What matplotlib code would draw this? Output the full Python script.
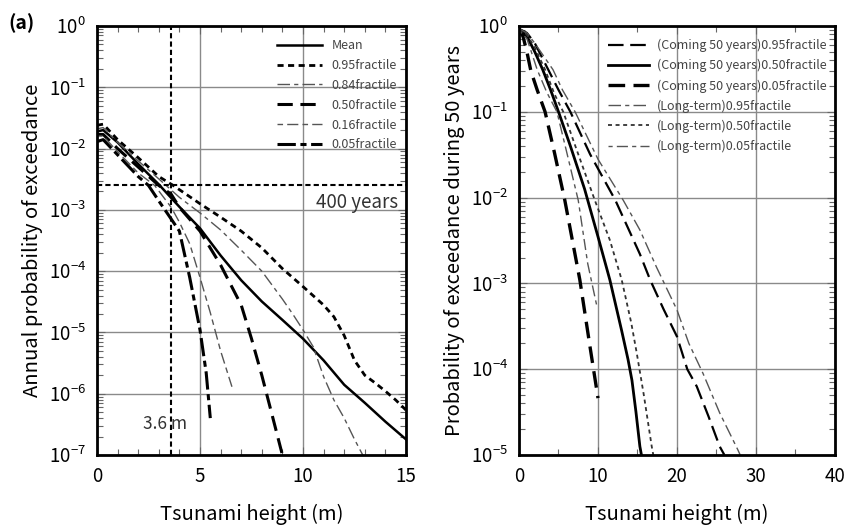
import matplotlib
matplotlib.use("Agg")
import matplotlib.pyplot as plt
from matplotlib.ticker import LogLocator, MultipleLocator, NullFormatter

plt.rcParams['font.family'] = ['Noto Sans CJK JP', 'DejaVu Sans']
plt.rcParams['mathtext.fontset'] = 'dejavusans'

# ---------------- Panel (a): annual probability ----------------
mean_x = [0, 0.3, 1, 2, 3, 4, 5, 6, 7, 8, 9, 10, 11, 12, 13, 14, 15]
mean_p = [1.9e-2, 2.0e-2, 1.26e-2, 5.6e-3, 2.6e-3, 1.12e-3, 5.0e-4, 1.8e-4, 7.1e-5,
          3.2e-5, 1.6e-5, 7.9e-6, 3.5e-6, 1.4e-6, 7.1e-7, 3.5e-7, 1.8e-7]

f95_x = [0, 0.3, 1, 2, 3, 3.7, 5, 6, 7, 8, 9, 10, 11, 11.5, 12, 12.5, 13, 13.5, 14, 14.5, 15]
f95_p = [2.4e-2, 2.5e-2, 1.4e-2, 7.1e-3, 3.5e-3, 2.5e-3, 1.26e-3, 7.6e-4, 4.5e-4, 2.4e-4,
         1.1e-4, 5.6e-5, 2.8e-5, 1.8e-5, 8.9e-6, 3.5e-6, 2.0e-6, 1.5e-6, 1.1e-6, 7.9e-7, 5.4e-7]

f84_x = [0, 0.3, 1, 2, 3, 4, 5, 6, 7, 8, 9, 9.5, 10, 10.5, 11, 11.5, 12, 12.5, 12.9]
f84_p = [2.1e-2, 2.2e-2, 1.26e-2, 6.3e-3, 3.2e-3, 1.6e-3, 8.9e-4, 4.7e-4, 2.2e-4, 1.0e-4,
         3.5e-5, 2.0e-5, 1.1e-5, 5.8e-6, 1.9e-6, 7.9e-7, 4.0e-7, 1.8e-7, 1.0e-7]

f50_x = [0, 0.3, 1, 2, 3, 3.6, 4, 5, 6, 7, 7.5, 8, 8.5, 9]
f50_p = [1.7e-2, 1.7e-2, 1.0e-2, 5.0e-3, 2.5e-3, 1.8e-3, 1.1e-3, 4.5e-4, 1.26e-4, 2.8e-5,
         7.9e-6, 2.0e-6, 4.5e-7, 1.0e-7]

f16_x = [0, 0.3, 1, 2, 2.8, 3.6, 4, 4.5, 5, 5.5, 6, 6.55]
f16_p = [1.6e-2, 1.6e-2, 8.9e-3, 4.0e-3, 2.5e-3, 1.1e-3, 6.3e-4, 2.8e-4, 7.9e-5, 2.1e-5, 5.0e-6, 1.3e-6]

f05_x = [0, 0.3, 1, 2, 2.5, 3, 3.6, 4, 4.5, 5, 5.3, 5.5]
f05_p = [1.3e-2, 1.4e-2, 7.9e-3, 3.5e-3, 2.5e-3, 1.4e-3, 7.1e-4, 4.5e-4, 7.9e-5, 1.1e-5, 2.2e-6, 4.0e-7]

target_height = 3.6
return_period = 400

# ---------------- Panel (b): probability during 50 years ----------------
c95_x = [0, 1, 2, 3.7, 5, 6.5, 9, 12.2, 15.3, 16.6, 18.3, 20, 21.3, 22.5, 24, 25.4, 26]
c95_p = [0.93, 0.83, 0.63, 0.31, 0.18, 0.10, 3.2e-2, 9.3e-3, 2.2e-3, 1.1e-3, 5.0e-4,
         2.4e-4, 1.0e-4, 6.3e-5, 2.8e-5, 1.26e-5, 1.0e-5]

c50_x = [0, 1, 2, 3, 4, 5, 6.5, 8.3, 10, 11.5, 13, 13.8, 14.3, 14.8, 15.3, 15.5]
c50_p = [0.89, 0.76, 0.50, 0.31, 0.18, 0.10, 4.0e-2, 1.26e-2, 3.5e-3, 1.1e-3, 2.8e-4,
         1.3e-4, 7.4e-5, 3.2e-5, 1.26e-5, 1.0e-5]

c05_x = [0, 0.5, 1, 1.5, 2.3, 3.3, 4.5, 5.8, 7.7, 9.0, 10.0]
c05_p = [0.89, 0.76, 0.50, 0.30, 0.18, 0.10, 3.3e-2, 9.3e-3, 1.1e-3, 1.8e-4, 4.6e-5]

l95_x = [0, 1, 2, 4.3, 5.5, 7.1, 10, 13.2, 15.3, 17.4, 20, 21.5, 23.3, 25.4, 27.7, 28]
l95_p = [0.93, 0.83, 0.63, 0.31, 0.18, 0.10, 2.8e-2, 9.3e-3, 4.2e-3, 1.55e-3, 4.9e-4,
         2.0e-4, 8.9e-5, 3.1e-5, 1.15e-5, 1.0e-5]

l50_x = [0, 1, 2, 3.3, 4.5, 5.6, 7.5, 9.6, 11.5, 13.0, 14.2, 14.9, 15.8, 16.8, 17.0]
l50_p = [0.89, 0.79, 0.56, 0.31, 0.16, 0.10, 3.2e-2, 9.3e-3, 3.2e-3, 1.1e-3, 3.5e-4,
         1.55e-4, 5.0e-5, 1.26e-5, 1.0e-5]

l05_x = [0, 1, 1.5, 2.3, 3.5, 4.8, 6, 7.5, 8.7, 9.9]
l05_p = [0.89, 0.71, 0.52, 0.31, 0.17, 0.10, 3.5e-2, 9.3e-3, 1.7e-3, 5.2e-4]

fig = plt.figure(figsize=(8.45, 5.28), dpi=100)
ax1 = fig.add_axes([97/845, 73/528, 309/845, 429/528])
ax2 = fig.add_axes([519/845, 73/528, 316/845, 429/528])

GRID = '#8a8a8a'

def style_axes(ax, xmax, xmajor, xminor, ymin):
    ax.set_yscale('log')
    ax.set_xlim(0, xmax)
    ax.set_ylim(ymin, 1)
    ax.xaxis.set_major_locator(MultipleLocator(xmajor))
    ax.xaxis.set_minor_locator(MultipleLocator(xminor))
    ax.yaxis.set_major_locator(LogLocator(base=10, numticks=20))
    ax.yaxis.set_minor_locator(LogLocator(base=10, subs=range(2, 10), numticks=20))
    ax.yaxis.set_minor_formatter(NullFormatter())
    ax.grid(True, which='major', color=GRID, lw=1.0)
    ax.set_axisbelow(True)
    ax.tick_params(which='both', direction='in', top=True, right=True)
    ax.tick_params(which='major', length=6, width=0.8, color='#666666', labelsize=13.5, pad=8)
    ax.tick_params(which='minor', length=4, width=0.8, color='#666666')
    for s in ax.spines.values():
        s.set_linewidth(2.0)
        s.set_color('black')
    ax.set_xlabel('Tsunami height (m)', fontsize=14.5, labelpad=12)

style_axes(ax1, 15, 5, 1, 1e-7)
style_axes(ax2, 40, 10, 5, 1e-5)

# panel a curves
ax1.plot(mean_x, mean_p, color='black', lw=1.8, label='Mean')
ax1.plot(f95_x, f95_p, color='black', lw=2.0, dashes=(2.2, 1.6), label='0.95fractile')
ax1.plot(f84_x, f84_p, color='#555555', lw=1.0, dashes=(9, 3, 3, 3), label='0.84fractile')
ax1.plot(f50_x, f50_p, color='black', lw=2.2, dashes=(5, 2.5), label='0.50fractile')
ax1.plot(f16_x, f16_p, color='#555555', lw=1.0, dashes=(4, 3, 8, 3), label='0.16fractile')
ax1.plot(f05_x, f05_p, color='black', lw=2.2, dashes=(6, 1.5, 2, 1.5), label='0.05fractile')

ax1.axvline(target_height, color='black', lw=1.5, dashes=(2.5, 1.5))
ax1.axhline(1.0 / return_period, color='black', lw=1.5, dashes=(2.5, 1.5))
ax1.text(14.6, 1.3e-3, f'{return_period} years', ha='right', va='center', fontsize=13.5, color='#333333')
ax1.text(3.3, 3.2e-7, '3.6 m', ha='center', va='center', fontsize=12.5, color='#333333')
ax1.set_ylabel('Annual probability of exceedance', fontsize=14.5, labelpad=4)
fig.text(8/845, 1 - 23/528, '(a)', fontsize=14, fontweight='bold', ha='left', va='center')

leg1 = ax1.legend(loc='upper right', bbox_to_anchor=(1.0, 0.99), frameon=False, fontsize=9,
                  handlelength=3.6, labelspacing=0.55, handletextpad=0.8, borderaxespad=0.3)
for t in leg1.get_texts():
    t.set_color('#444444')

# panel b curves
ax2.plot(c95_x, c95_p, color='black', lw=1.6, dashes=(7, 3), label='(Coming 50 years)0.95fractile')
ax2.plot(c50_x, c50_p, color='black', lw=2.0, label='(Coming 50 years)0.50fractile')
ax2.plot(c05_x, c05_p, color='black', lw=2.4, dashes=(5, 2.5), label='(Coming 50 years)0.05fractile')
ax2.plot(l95_x, l95_p, color='#555555', lw=1.0, dashes=(9, 3, 3, 3), label='(Long-term)0.95fractile')
ax2.plot(l50_x, l50_p, color='#333333', lw=1.3, dashes=(2.2, 2), label='(Long-term)0.50fractile')
ax2.plot(l05_x, l05_p, color='#555555', lw=1.0, dashes=(3, 3, 8, 3), label='(Long-term)0.05fractile')
ax2.set_ylabel('Probability of exceedance during 50 years', fontsize=14.5, labelpad=4)

leg2 = ax2.legend(loc='upper right', bbox_to_anchor=(1.0, 0.99), frameon=False, fontsize=9,
                  handlelength=3.3, labelspacing=0.55, handletextpad=0.6, borderaxespad=0.3)
for t in leg2.get_texts():
    t.set_color('#444444')

fig.savefig('out.png', dpi=100)
